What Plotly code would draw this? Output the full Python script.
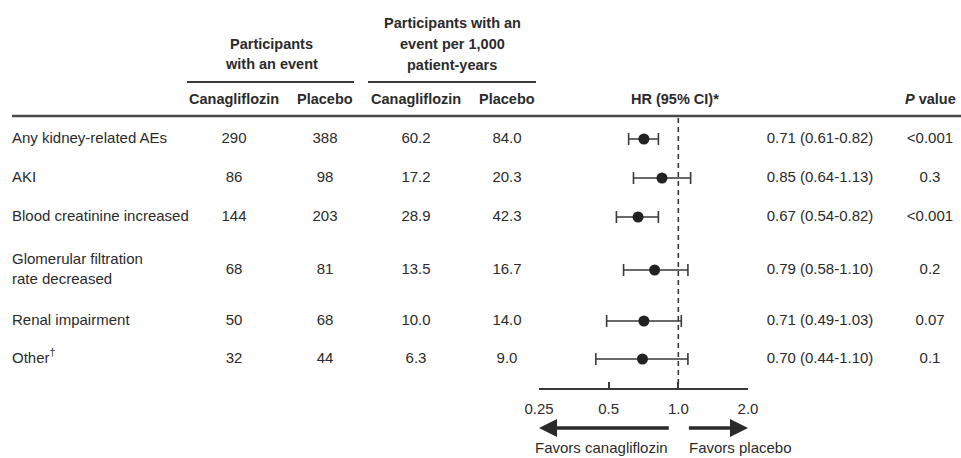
import math
import plotly.graph_objects as go

# ---------------- data ----------------
outcomes = ["Any kidney-related AEs", "AKI", "Blood creatinine increased",
            "Glomerular filtration<br>rate decreased", "Renal impairment", "Other<sup>†</sup>"]
cana_events = [290, 86, 144, 68, 50, 32]
placebo_events = [388, 98, 203, 81, 68, 44]
cana_rate = ["60.2", "17.2", "28.9", "13.5", "10.0", "6.3"]
placebo_rate = ["84.0", "20.3", "42.3", "16.7", "14.0", "9.0"]
hr = [0.71, 0.85, 0.67, 0.79, 0.71, 0.70]
ci_low = [0.61, 0.64, 0.54, 0.58, 0.49, 0.44]
ci_high = [0.82, 1.13, 0.82, 1.10, 1.03, 1.10]
hr_text = ["0.71 (0.61-0.82)", "0.85 (0.64-1.13)", "0.67 (0.54-0.82)",
           "0.79 (0.58-1.10)", "0.71 (0.49-1.03)", "0.70 (0.44-1.10)"]
p_values = ["<0.001", "0.3", "<0.001", "0.2", "0.07", "0.1"]
x_tick_vals = [0.25, 0.5, 1.0, 2.0]
x_tick_labels = ["0.25", "0.5", "1.0", "2.0"]

# ---------------- layout constants ----------------
W, H = 961, 458
AXIS_BOTTOM = 388          # pixel y of the HR axis line
ROW_Y = [139, 178, 217, 270, 321, 359]   # row positions (pixel units on y axis)
FONT = "Liberation Sans, Arial, sans-serif"
TXT = "#2b2b2b"
LINE = "#3a3a3a"
FS = 15
FSB = 14.5


def px(x):
    return x / W


def py(y):
    return 1 - y / H


fig = go.Figure()


def text_col(xpos, values, pos="middle center"):
    fig.add_trace(go.Scatter(
        x=[xpos] * len(values), y=ROW_Y, text=[str(v) for v in values],
        mode="text", textposition=pos, xaxis="x2", yaxis="y",
        textfont=dict(family=FONT, size=FS, color=TXT),
        hoverinfo="skip", showlegend=False, cliponaxis=False))


text_col(12, outcomes, "middle right")
text_col(234, cana_events)
text_col(325, placebo_events)
text_col(416, cana_rate)
text_col(507, placebo_rate)
text_col(820, hr_text)
text_col(930, p_values)

# reference line at HR = 1
fig.add_trace(go.Scatter(
    x=[1.0, 1.0], y=[118, AXIS_BOTTOM], mode="lines", xaxis="x", yaxis="y",
    line=dict(color=LINE, width=1.6, dash="5px,4px"),
    hoverinfo="skip", showlegend=False))

# HR points with CIs
fig.add_trace(go.Scatter(
    x=hr, y=ROW_Y, mode="markers", xaxis="x", yaxis="y",
    marker=dict(size=11, color="#222222"),
    error_x=dict(type="data", symmetric=False,
                 array=[c - h for c, h in zip(ci_high, hr)],
                 arrayminus=[h - c for h, c in zip(hr, ci_low)],
                 color=LINE, thickness=1.6, width=6),
    hoverinfo="skip", showlegend=False, cliponaxis=False))

# ---------------- annotations ----------------
ann = []


def add_text(x, y, text, size=FS, bold=False, align="center"):
    ann.append(dict(x=px(x), y=py(y), xref="paper", yref="paper",
                    text=("<b>%s</b>" % text) if bold else text,
                    showarrow=False, xanchor=align, yanchor="middle", align=align,
                    font=dict(family=FONT, size=size, color=TXT)))


add_text(271, 44, "Participants", size=FSB, bold=True)
add_text(271, 64, "with an event", size=FSB, bold=True)
add_text(452, 23, "Participants with an", size=FSB, bold=True)
add_text(452, 44, "event per 1,000", size=FSB, bold=True)
add_text(452, 65, "patient-years", size=FSB, bold=True)
add_text(234, 99, "Canagliflozin", size=FSB, bold=True)
add_text(325, 99, "Placebo", size=FSB, bold=True)
add_text(416, 99, "Canagliflozin", size=FSB, bold=True)
add_text(507, 99, "Placebo", size=FSB, bold=True)
add_text(675, 99, "HR (95% CI)*", size=FSB, bold=True)
add_text(930, 99, "<i>P</i> value", size=FSB, bold=True)
add_text(670, 447, "Favors canagliflozin", align="right")
add_text(687, 447, "Favors placebo", align="left")

# direction arrows (positions on the log HR axis)
ARROW_Y = 428
for tip, tail in [(0.25, 0.923), (2.0, 1.094)]:
    ann.append(dict(x=math.log10(tip), xref="x", y=py(ARROW_Y), yref="paper",
                    ax=math.log10(tail), axref="x", ay=0, ayref="pixel",
                    text="", showarrow=True, arrowhead=2, arrowsize=1.0,
                    arrowwidth=3.6, arrowcolor="#2a2a2a", standoff=0, startstandoff=0))

shapes = [
    dict(type="line", xref="paper", yref="paper", x0=px(187), x1=px(354), y0=py(82), y1=py(82),
         line=dict(color=LINE, width=2)),
    dict(type="line", xref="paper", yref="paper", x0=px(368), x1=px(536), y0=py(82), y1=py(82),
         line=dict(color=LINE, width=2)),
    dict(type="line", xref="paper", yref="paper", x0=px(12), x1=1, y0=py(116), y1=py(116),
         line=dict(color="#4a4a4a", width=2.5)),
]

fig.update_layout(
    width=W, height=H,
    margin=dict(l=0, r=0, t=0, b=0, pad=0, autoexpand=False),
    paper_bgcolor="white", plot_bgcolor="rgba(0,0,0,0)",
    annotations=ann, shapes=shapes, showlegend=False,
    xaxis=dict(type="log", domain=[px(539), px(748)],
               range=[math.log10(0.25), math.log10(2.0)], anchor="y",
               tickvals=x_tick_vals, ticktext=x_tick_labels,
               ticks="inside", ticklen=6, tickwidth=1.6, tickcolor=LINE,
               showline=True, linecolor=LINE, linewidth=1.6,
               showgrid=False, zeroline=False, ticklabelstandoff=6, automargin=False,
               tickfont=dict(family=FONT, size=FS, color=TXT), fixedrange=True),
    xaxis2=dict(domain=[0, 1], range=[0, W], anchor="y", visible=False,
                automargin=False, fixedrange=True),
    yaxis=dict(domain=[py(AXIS_BOTTOM), 1], range=[AXIS_BOTTOM, 0], visible=False,
               automargin=False, fixedrange=True),
)

fig.write_html("out.html", config={"displayModeBar": False},
               post_script="document.body.style.margin='0px';")
